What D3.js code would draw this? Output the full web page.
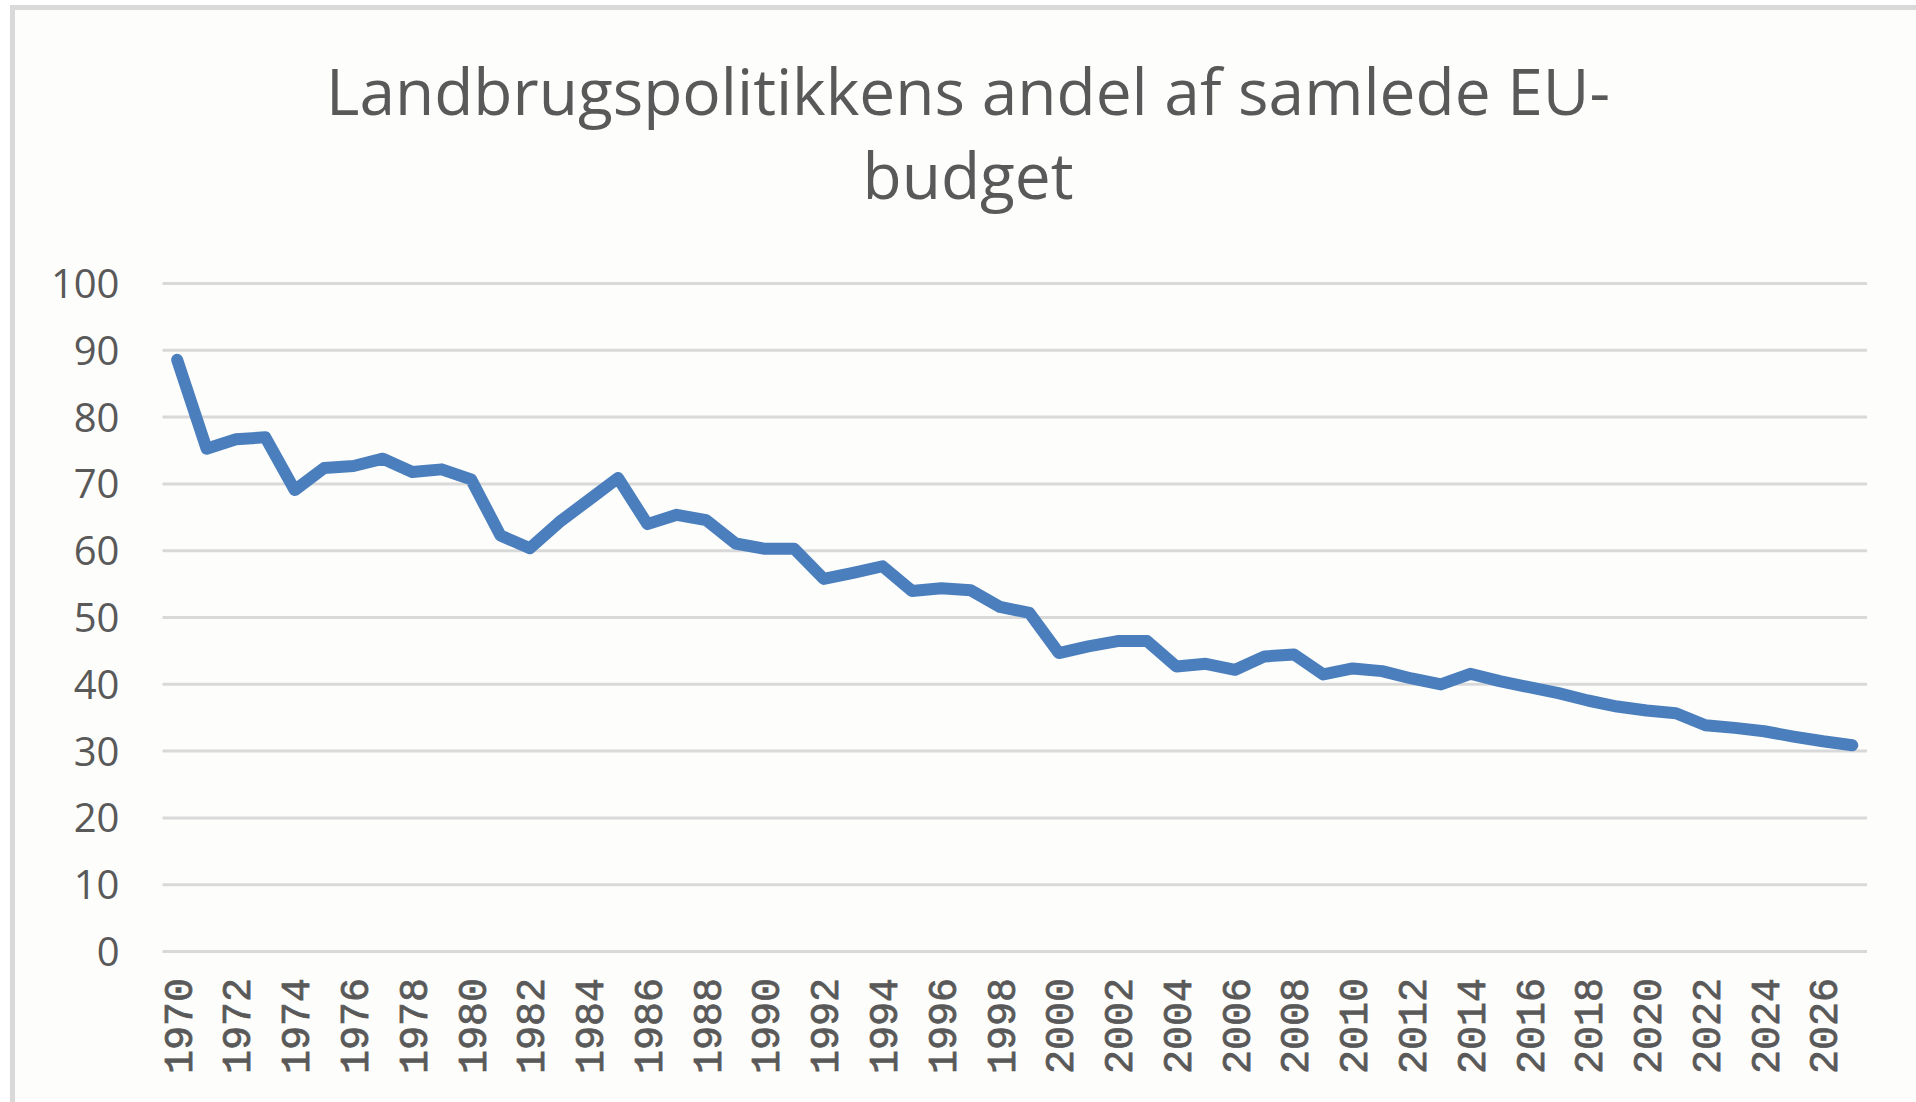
<!DOCTYPE html>
<html>
<head>
<meta charset="utf-8">
<script src="https://cdn.jsdelivr.net/npm/d3@7"></script>
<style>
  html, body { margin: 0; padding: 0; background: #ffffff; }
  svg { display: block; }
  .axis path, .axis line { stroke: none; }
  .grid line { stroke: #d9d9d9; stroke-width: 3px; }
  .grid path { stroke: none; }
</style>
</head>
<body>
<svg width="1916" height="1102"></svg>
<script>
// chart data
var years = [
  1970, 1971, 1972, 1973, 1974, 1975, 1976, 1977, 1978, 1979,
  1980, 1981, 1982, 1983, 1984, 1985, 1986, 1987, 1988, 1989,
  1990, 1991, 1992, 1993, 1994, 1995, 1996, 1997, 1998, 1999,
  2000, 2001, 2002, 2003, 2004, 2005, 2006, 2007, 2008, 2009,
  2010, 2011, 2012, 2013, 2014, 2015, 2016, 2017, 2018, 2019,
  2020, 2021, 2022, 2023, 2024, 2025, 2026, 2027
]
var share = [
  88.5, 75.2, 76.6, 76.9, 69.0, 72.3, 72.6, 73.7, 71.7, 72.1,
  70.6, 62.2, 60.3, 64.2, 67.5, 70.8, 63.9, 65.3, 64.5, 61.0,
  60.2, 60.2, 55.7, 56.6, 57.6, 53.9, 54.3, 54.0, 51.5, 50.6,
  44.6, 45.6, 46.4, 46.4, 42.6, 43.0, 42.1, 44.1, 44.4, 41.4,
  42.3, 41.9, 40.8, 39.9, 41.5, 40.4, 39.5, 38.6, 37.5, 36.6,
  36.0, 35.6, 33.8, 33.4, 32.9, 32.1, 31.4, 30.8
]
var yTicks = [0, 10, 20, 30, 40, 50, 60, 70, 80, 90, 100]
var xTickYears = [
  1970, 1972, 1974, 1976, 1978, 1980, 1982, 1984, 1986, 1988,
  1990, 1992, 1994, 1996, 1998, 2000, 2002, 2004, 2006, 2008,
  2010, 2012, 2014, 2016, 2018, 2020, 2022, 2024, 2026
]
var titleLines = ['Landbrugspolitikkens andel af samlede EU-', 'budget']

var svg = d3.select('svg'),
  margin = {top: 283, right: 49, bottom: 151, left: 162.5},
  width = +svg.attr('width') - margin.left - margin.right,
  height = +svg.attr('height') - margin.top - margin.bottom

var textColor = '#595959'

var data = years.map(function (y, i) { return {year: y, value: share[i]} })

// chart area with its light border
svg.append('rect')
    .attr('x', 12.5)
    .attr('y', 7.5)
    .attr('width', 1940)
    .attr('height', 1140)
    .attr('fill', '#fdfdfc')
    .attr('stroke', '#d9d9d9')
    .attr('stroke-width', 5)

svg.append('g')
    .attr('class', 'title')
  .selectAll('text')
  .data(titleLines)
  .enter().append('text')
    .attr('x', 968)
    .attr('y', function (d, i) { return 115 + i * 84 })
    .attr('text-anchor', 'middle')
    .attr('fill', textColor)
    .style('font-family', '"Open Sans", sans-serif')
    .style('font-size', '64px')
    .text(function (d) { return d })

var x = d3.scalePoint().domain(years).range([0, width]).padding(0.5),
  y = d3.scaleLinear().domain([0, 100]).range([height, 0])

var plot = svg.append('g')
    .attr('transform', 'translate(' + margin.left + ',' + margin.top + ')')

// gridlines
plot.append('g')
    .attr('class', 'grid')
    .call(d3.axisLeft(y).tickValues(yTicks).tickSize(-width).tickFormat(''))

// y axis labels
var yAxis = plot.append('g')
    .attr('class', 'axis axis--y')
    .call(d3.axisLeft(y).tickValues(yTicks).tickSize(0).tickPadding(43))
yAxis.selectAll('text')
    .attr('fill', textColor)
    .attr('dy', '0.36em')
    .style('font-family', '"Open Sans", sans-serif')
    .style('font-size', '40px')

// x axis labels, rotated
var xAxis = plot.append('g')
    .attr('class', 'axis axis--x')
    .attr('transform', 'translate(0,' + height + ')')
    .call(d3.axisBottom(x).tickValues(xTickYears).tickSize(0))
xAxis.selectAll('text')
    .attr('transform', 'rotate(-90)')
    .attr('text-anchor', 'end')
    .attr('x', -27)
    .attr('y', 0)
    .attr('dy', '0.35em')
    .attr('fill', textColor)
    .attr('stroke', textColor)
    .attr('stroke-width', 0.8)
    .style('font-family', '"Liberation Mono", monospace')
    .style('font-size', '40px')

var line = d3.line()
    .x(function (d) { return x(d.year) })
    .y(function (d) { return y(d.value) })

plot.append('path')
    .datum(data)
    .attr('class', 'line')
    .attr('fill', 'none')
    .attr('stroke', '#4a7ebc')
    .attr('stroke-width', 12)
    .attr('stroke-linejoin', 'round')
    .attr('stroke-linecap', 'round')
    .attr('d', line)
</script>
</body>
</html>
